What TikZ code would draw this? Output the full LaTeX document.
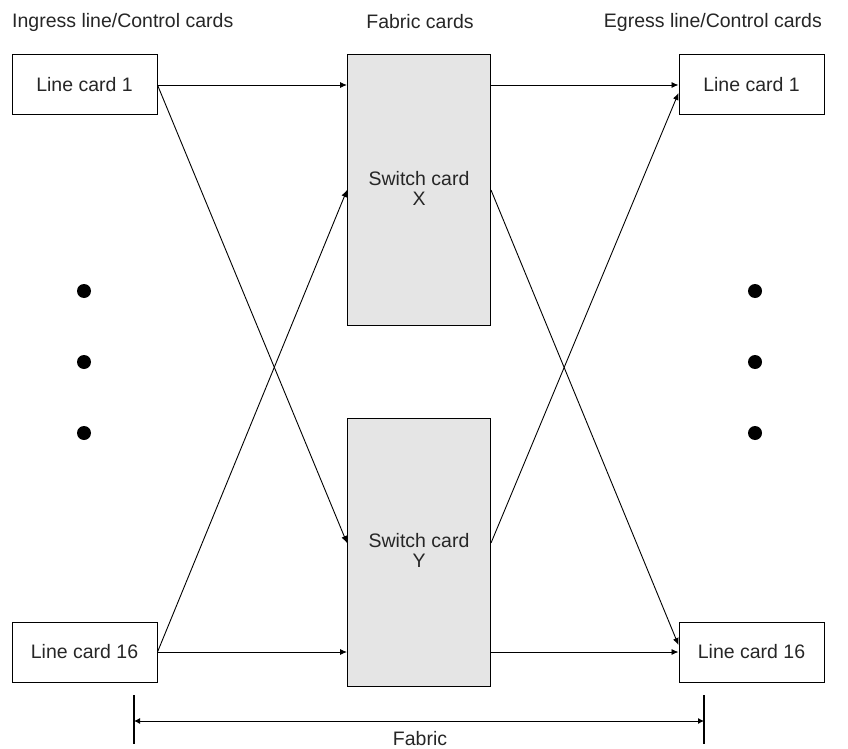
\documentclass[tikz,border=0pt]{standalone}
\usepackage{fontspec}
\setmainfont{Liberation Sans}
\usetikzlibrary{arrows.meta}
\begin{document}
\begin{tikzpicture}[x=1pt,y=-1pt,
  every node/.style={font=\fontsize{19.5}{20}\selectfont, text=black!85},
  card/.style={draw, line width=1pt, minimum width=145pt, minimum height=60pt, inner sep=0pt},
  switchbox/.style={draw, line width=1pt, fill=gray!20, minimum width=143pt, inner sep=0pt},
  link/.style={line width=0.9pt, -{Latex[length=7pt,width=6pt]}},
  dim/.style={line width=0.9pt, {Latex[length=6pt,width=6pt]}-{Latex[length=6pt,width=6pt]}},
  tick/.style={line width=1.1pt},
  dot/.style={circle, fill=black, minimum size=14pt, inner sep=0pt},
  header/.style={inner sep=0pt}]
\useasboundingbox (0,0) rectangle (848,749);
% headers
\node[header, anchor=west] (h1) at (12,22) {Ingress line/Control cards};
\node[header] (h2) at (420,22) {Fabric cards};
\node[header, anchor=east] (h3) at (822,22) {Egress line/Control cards};
% cards
\node[card] (L1) at (84.5,85) {Line card 1};
\node[card] (L16) at (84.5,652) {Line card 16};
\node[card] (R1) at (751.5,85) {Line card 1};
\node[card] (R16) at (751.5,652) {Line card 16};
% switch cards
\node[switchbox, minimum height=270pt] (SX) at (419,190) {};
\node[align=center, inner sep=0pt] (SXt) at (419,188) {Switch card\\X};
\node[switchbox, minimum height=268pt] (SY) at (419,552) {};
\node[align=center, inner sep=0pt] (SYt) at (419,550) {Switch card\\Y};
% links
\draw[link] (L1.east) -- (L1.east -| SX.west);
\draw[link] (L1.east) -- ([yshift=9pt]SY.west);
\draw[link] (L16.east) -- (SX.west);
\draw[link] (L16.east) -- (L16.east -| SY.west);
\draw[link] (SX.east |- R1) -- (R1.west);
\draw[link] (SX.east) -- ([yshift=7pt]R16.west);
\draw[link] ([yshift=9pt]SY.east) -- ([yshift=-8pt]R1.west);
\draw[link] (SY.east |- R16) -- (R16.west);
% dots
\node[dot] (d1) at (84,291) {};
\node[dot] (d2) at (84,362) {};
\node[dot] (d3) at (84,433) {};
\node[dot] (d4) at (755,291) {};
\node[dot] (d5) at (755,362) {};
\node[dot] (d6) at (755,433) {};
% fabric dimension
\coordinate (ta) at (134,695);
\coordinate (tb) at (134,744);
\coordinate (tc) at (704,695);
\coordinate (td) at (704,744);
\draw[tick] (ta) -- (tb);
\draw[tick] (tc) -- (td);
\coordinate (fa) at (134,721);
\coordinate (fb) at (704,721);
\draw[dim] (fa) -- (fb);
\node[inner sep=0pt] (fab) at (420,739) {Fabric};
\end{tikzpicture}
\end{document}
